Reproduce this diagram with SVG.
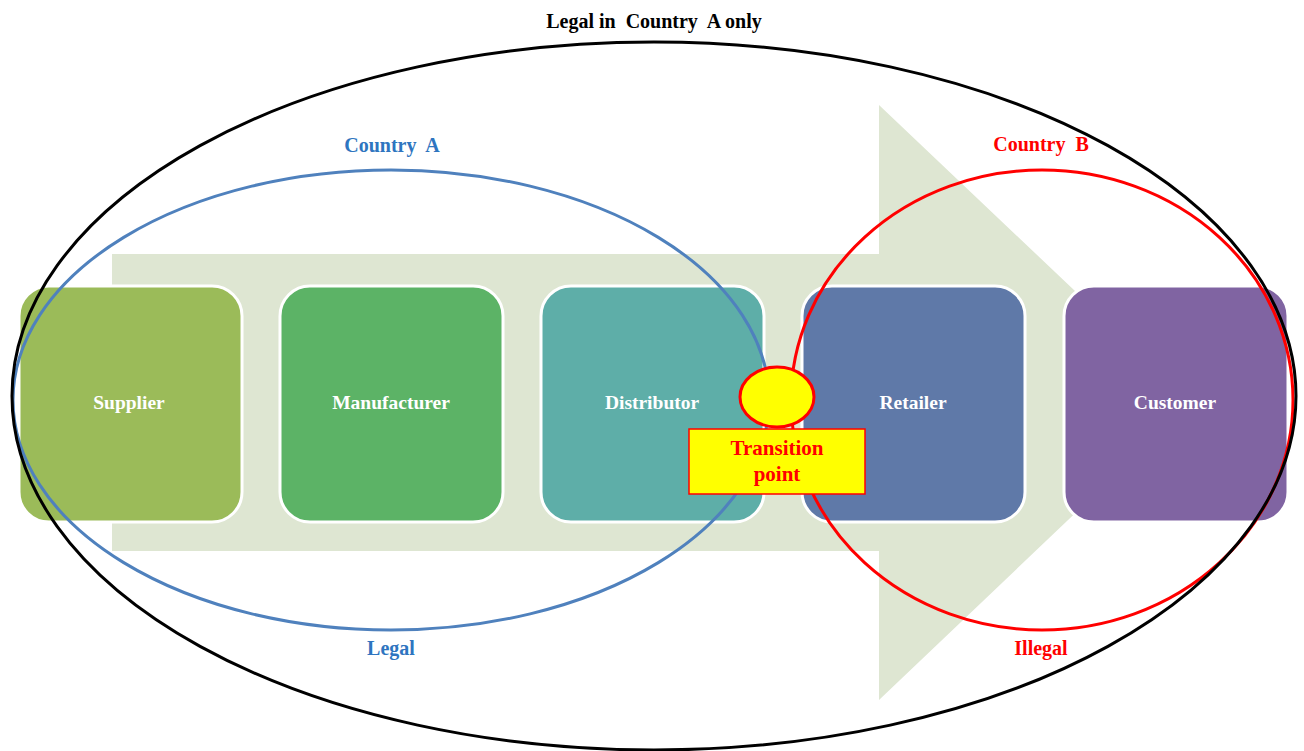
<svg xmlns="http://www.w3.org/2000/svg" width="1304" height="751" viewBox="0 0 1304 751">
  <style>
    .box { stroke: #ffffff; stroke-width: 3; }
    .boxlabel { font-family: "Liberation Serif", "Times New Roman", serif; font-weight: bold; font-size: 19.5px; fill: #ffffff; text-anchor: middle; }
    .lbl { font-family: "Liberation Serif", "Times New Roman", serif; font-weight: bold; font-size: 20px; text-anchor: middle; white-space: pre; }
    .ring { fill: none; stroke-width: 3; }
  </style>
  <rect width="1304" height="751" fill="#ffffff"/>

  <!-- flow arrow in the background -->
  <g id="flow-arrow">
    <polygon points="112,254 879,254 879,105 1192,402 879,700 879,551 112,551" fill="#DEE6D2"/>
  </g>

  <!-- stages of the supply chain -->
  <g id="supplier">
    <rect class="box" x="19" y="286" width="223" height="236" rx="30" fill="#9BBB59"/>
    <text class="boxlabel" x="129" y="409">Supplier</text>
  </g>
  <g id="manufacturer">
    <rect class="box" x="280" y="286" width="223" height="236" rx="30" fill="#5CB366"/>
    <text class="boxlabel" x="391" y="409">Manufacturer</text>
  </g>
  <g id="distributor">
    <rect class="box" x="541" y="286" width="223" height="236" rx="30" fill="#5EAEA8"/>
    <text class="boxlabel" x="652" y="409">Distributor</text>
  </g>
  <g id="retailer">
    <rect class="box" x="802" y="286" width="223" height="236" rx="30" fill="#5F79A8"/>
    <text class="boxlabel" x="913" y="409">Retailer</text>
  </g>
  <g id="customer">
    <rect class="box" x="1064" y="286" width="224" height="236" rx="30" fill="#8064A2"/>
    <text class="boxlabel" x="1175" y="409">Customer</text>
  </g>

  <!-- jurisdiction boundaries -->
  <g id="country-a">
    <ellipse class="ring" cx="391" cy="400" rx="378" ry="230" stroke="#4F81BD"/>
    <text class="lbl" x="392" y="152" fill="#2E75C0">Country  A</text>
    <text class="lbl" x="391" y="655" fill="#2E75C0">Legal</text>
  </g>
  <g id="country-b">
    <ellipse class="ring" cx="1042" cy="400" rx="251" ry="230" stroke="#FF0000"/>
    <text class="lbl" x="1041" y="151" fill="#FF0000">Country  B</text>
    <text class="lbl" x="1041" y="655" fill="#FF0000">Illegal</text>
  </g>
  <g id="legal-in-a-only">
    <ellipse class="ring" cx="654" cy="396" rx="642" ry="354" stroke="#000000"/>
    <text class="lbl" x="654" y="28" fill="#000000">Legal in  Country  A only</text>
  </g>

  <!-- border crossing marker -->
  <g id="transition-point">
    <ellipse cx="777" cy="397" rx="37" ry="30" fill="#FFFF00" stroke="#FF0000" stroke-width="3"/>
    <rect x="689" y="429" width="176" height="65" fill="#FFFF00" stroke="#FF0000" stroke-width="1.5"/>
    <text class="lbl" x="777" y="455" fill="#FF0000" style="font-size:21px">Transition</text>
    <text class="lbl" x="777" y="481" fill="#FF0000" style="font-size:21px">point</text>
  </g>
</svg>
